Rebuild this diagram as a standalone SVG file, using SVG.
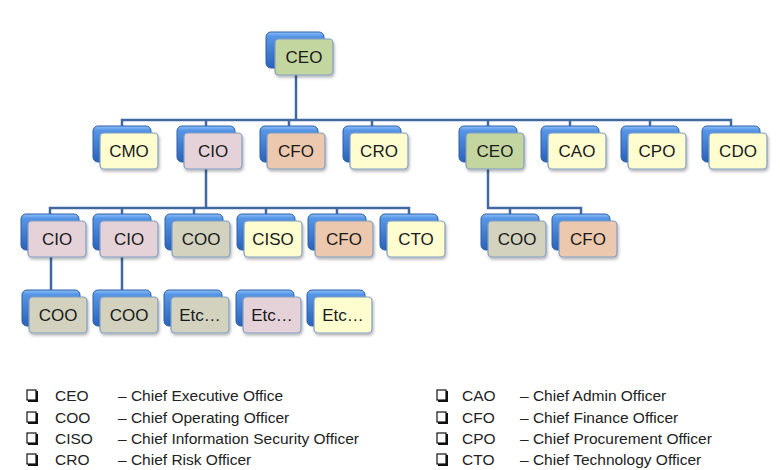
<svg xmlns="http://www.w3.org/2000/svg" width="780" height="470" viewBox="0 0 780 470">
<defs>
<linearGradient id="blueG" x1="0" y1="0" x2="0" y2="1">
<stop offset="0" stop-color="#8cc0fa"/>
<stop offset="0.12" stop-color="#5796e6"/>
<stop offset="1" stop-color="#2a63bb"/>
</linearGradient>
<filter id="sh" x="-20%" y="-20%" width="140%" height="150%">
<feDropShadow dx="1" dy="2" stdDeviation="1.5" flood-color="#000" flood-opacity="0.3"/>
</filter>
<style>
.back{fill:url(#blueG);stroke:#2d5fa6;stroke-width:1}
.front{stroke:#7f9dc4;stroke-width:1.2;filter:url(#sh)}
.green{fill:#c4d69f}
.yellow{fill:#fefdd0}
.pink{fill:#e5d2d9}
.gray{fill:#d2d2bf}
.peach{fill:#ecc9ae}
.lbl{font-family:"Liberation Sans",Arial,sans-serif;font-size:17px;fill:#1a1a1a;text-anchor:middle}
.conn{fill:none;stroke:#41699f;stroke-width:2.5}
.leg{font-family:"Liberation Sans",Arial,sans-serif;font-size:15.5px;fill:#222}
.cb{fill:#fff;stroke:#111;stroke-width:1.2}
.cbs{fill:none;stroke:#111;stroke-width:2}
</style>
</defs>
<rect width="780" height="470" fill="#fff"/>

<g id="connectors">
<path class="conn" d="M296 75 V120 M122 126 V120 H731 V126 M206 120 V126 M289 120 V126 M372 120 V126 M488 120 V126 M570 120 V126 M650 120 V126"/>
<path class="conn" d="M206 169 V208 M50 214 V208 H409 V214 M122 208 V214 M194 208 V214 M266 208 V214 M337 208 V214"/>
<path class="conn" d="M488 169 V208 H581 V214 M510 208 V214"/>
<path class="conn" d="M51 257 V290 M122 257 V290"/>
</g>

<g id="n-ceo"><rect class="back" x="266" y="32" width="58" height="36" rx="5"/><rect class="front green" x="275" y="39" width="58" height="36" rx="4"/><text class="lbl" x="304" y="63">CEO</text></g>

<g id="n-cmo"><rect class="back" x="93" y="126" width="58" height="36" rx="5"/><rect class="front yellow" x="100" y="133" width="58" height="36" rx="4"/><text class="lbl" x="129" y="157">CMO</text></g>
<g id="n-cio"><rect class="back" x="177" y="126" width="58" height="36" rx="5"/><rect class="front pink" x="184" y="133" width="58" height="36" rx="4"/><text class="lbl" x="213" y="157">CIO</text></g>
<g id="n-cfo"><rect class="back" x="260" y="126" width="58" height="36" rx="5"/><rect class="front peach" x="267" y="133" width="58" height="36" rx="4"/><text class="lbl" x="296" y="157">CFO</text></g>
<g id="n-cro"><rect class="back" x="343" y="126" width="58" height="36" rx="5"/><rect class="front yellow" x="350" y="133" width="58" height="36" rx="4"/><text class="lbl" x="379" y="157">CRO</text></g>
<g id="n-ceo2"><rect class="back" x="459" y="126" width="58" height="36" rx="5"/><rect class="front green" x="466" y="133" width="58" height="36" rx="4"/><text class="lbl" x="495" y="157">CEO</text></g>
<g id="n-cao"><rect class="back" x="541" y="126" width="58" height="36" rx="5"/><rect class="front yellow" x="548" y="133" width="58" height="36" rx="4"/><text class="lbl" x="577" y="157">CAO</text></g>
<g id="n-cpo"><rect class="back" x="621" y="126" width="58" height="36" rx="5"/><rect class="front yellow" x="628" y="133" width="58" height="36" rx="4"/><text class="lbl" x="657" y="157">CPO</text></g>
<g id="n-cdo"><rect class="back" x="702" y="126" width="58" height="36" rx="5"/><rect class="front yellow" x="709" y="133" width="58" height="36" rx="4"/><text class="lbl" x="738" y="157">CDO</text></g>

<g id="n-cio-a"><rect class="back" x="21" y="214" width="58" height="36" rx="5"/><rect class="front pink" x="28" y="221" width="58" height="36" rx="4"/><text class="lbl" x="57" y="245">CIO</text></g>
<g id="n-cio-b"><rect class="back" x="93" y="214" width="58" height="36" rx="5"/><rect class="front pink" x="100" y="221" width="58" height="36" rx="4"/><text class="lbl" x="129" y="245">CIO</text></g>
<g id="n-coo"><rect class="back" x="165" y="214" width="58" height="36" rx="5"/><rect class="front gray" x="172" y="221" width="58" height="36" rx="4"/><text class="lbl" x="201" y="245">COO</text></g>
<g id="n-ciso"><rect class="back" x="237" y="214" width="58" height="36" rx="5"/><rect class="front yellow" x="244" y="221" width="58" height="36" rx="4"/><text class="lbl" x="273" y="245">CISO</text></g>
<g id="n-cfo-a"><rect class="back" x="308" y="214" width="58" height="36" rx="5"/><rect class="front peach" x="315" y="221" width="58" height="36" rx="4"/><text class="lbl" x="344" y="245">CFO</text></g>
<g id="n-cto"><rect class="back" x="380" y="214" width="58" height="36" rx="5"/><rect class="front yellow" x="387" y="221" width="58" height="36" rx="4"/><text class="lbl" x="416" y="245">CTO</text></g>
<g id="n-coo-b"><rect class="back" x="481" y="214" width="58" height="36" rx="5"/><rect class="front gray" x="488" y="221" width="58" height="36" rx="4"/><text class="lbl" x="517" y="245">COO</text></g>
<g id="n-cfo-b"><rect class="back" x="552" y="214" width="58" height="36" rx="5"/><rect class="front peach" x="559" y="221" width="58" height="36" rx="4"/><text class="lbl" x="588" y="245">CFO</text></g>

<g id="n-coo-c"><rect class="back" x="22" y="290" width="58" height="36" rx="5"/><rect class="front gray" x="29" y="297" width="58" height="36" rx="4"/><text class="lbl" x="58" y="321">COO</text></g>
<g id="n-coo-d"><rect class="back" x="93" y="290" width="58" height="36" rx="5"/><rect class="front gray" x="100" y="297" width="58" height="36" rx="4"/><text class="lbl" x="129" y="321">COO</text></g>
<g id="n-etc1"><rect class="back" x="164" y="290" width="58" height="36" rx="5"/><rect class="front gray" x="171" y="297" width="58" height="36" rx="4"/><text class="lbl" x="200" y="321">Etc…</text></g>
<g id="n-etc2"><rect class="back" x="236" y="290" width="58" height="36" rx="5"/><rect class="front pink" x="243" y="297" width="58" height="36" rx="4"/><text class="lbl" x="272" y="321">Etc…</text></g>
<g id="n-etc3"><rect class="back" x="307" y="290" width="58" height="36" rx="5"/><rect class="front yellow" x="314" y="297" width="58" height="36" rx="4"/><text class="lbl" x="343" y="321">Etc…</text></g>

<g id="legend">
<g id="legend-boxes">
<path class="cbs" d="M37 391 V401 H28 M37 413 V423 H28 M37 434 V444 H28 M37 455 V465 H28"/>
<rect class="cb" x="27" y="390" width="9" height="10"/>
<rect class="cb" x="27" y="412" width="9" height="10"/>
<rect class="cb" x="27" y="433" width="9" height="10"/>
<rect class="cb" x="27" y="454" width="9" height="10"/>
<path class="cbs" d="M447 391 V401 H438 M447 413 V423 H438 M447 434 V444 H438 M447 455 V465 H438"/>
<rect class="cb" x="437" y="390" width="9" height="10"/>
<rect class="cb" x="437" y="412" width="9" height="10"/>
<rect class="cb" x="437" y="433" width="9" height="10"/>
<rect class="cb" x="437" y="454" width="9" height="10"/>
</g>
<text class="leg" x="55" y="401">CEO</text><text class="leg" x="118" y="401">– Chief Executive Office</text>
<text class="leg" x="55" y="423">COO</text><text class="leg" x="118" y="423">– Chief Operating Officer</text>
<text class="leg" x="55" y="444">CISO</text><text class="leg" x="118" y="444">– Chief Information Security Officer</text>
<text class="leg" x="55" y="465">CRO</text><text class="leg" x="118" y="465">– Chief Risk Officer</text>
<text class="leg" x="462" y="401">CAO</text><text class="leg" x="520" y="401">– Chief Admin Officer</text>
<text class="leg" x="462" y="423">CFO</text><text class="leg" x="520" y="423">– Chief Finance Officer</text>
<text class="leg" x="462" y="444">CPO</text><text class="leg" x="520" y="444">– Chief Procurement Officer</text>
<text class="leg" x="462" y="465">CTO</text><text class="leg" x="520" y="465">– Chief Technology Officer</text>
</g>
</svg>
